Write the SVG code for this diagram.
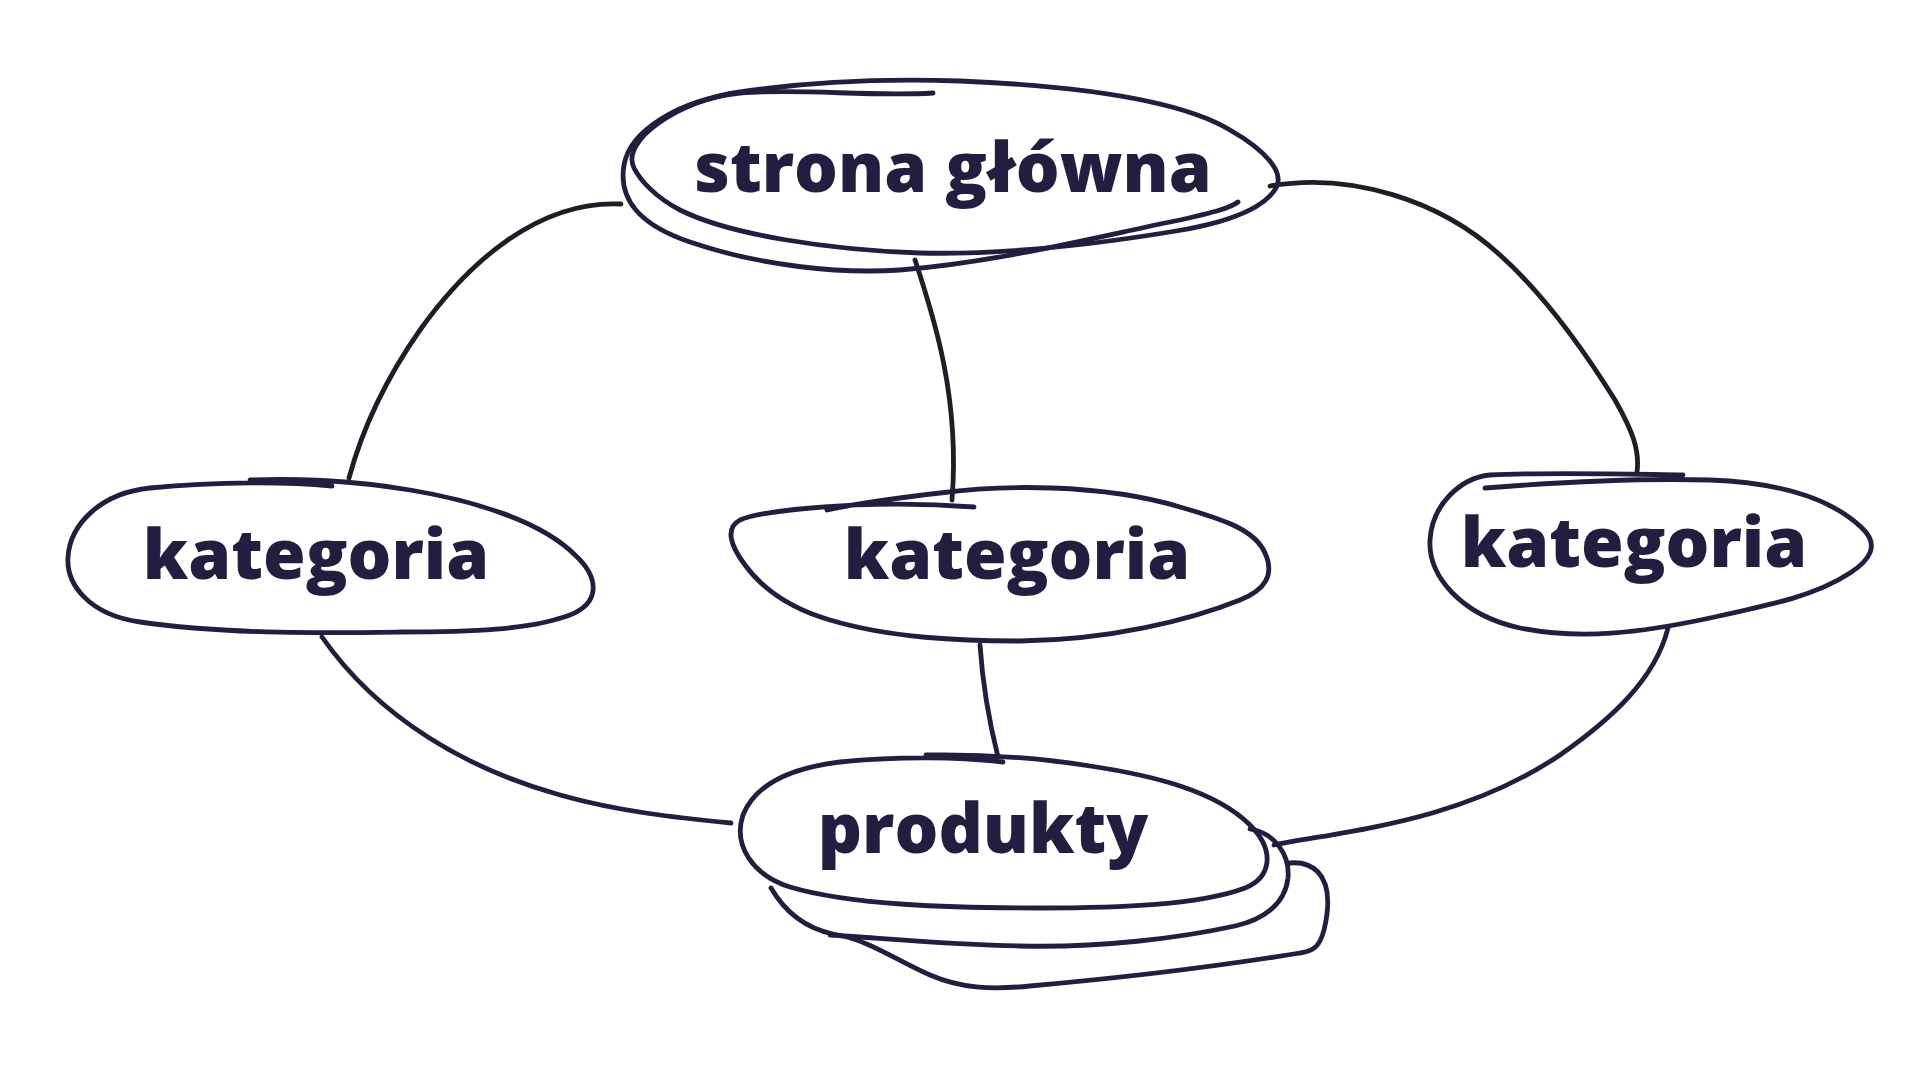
<svg xmlns="http://www.w3.org/2000/svg" width="1920" height="1080" viewBox="0 0 1920 1080">
<style>
.n{fill:none;stroke:#221e40;stroke-width:4.8;stroke-linecap:round;stroke-linejoin:round}
.c{fill:none;stroke-width:4.8;stroke-linecap:round}
.c1{stroke:#1f1e26}
.c2{stroke:#221e40}
.t{font-family:"Open Sans","Noto Sans",sans-serif;font-weight:800;font-size:69px;fill:#221e40;text-anchor:middle}
</style>
<rect width="1920" height="1080" fill="#ffffff"/>
<g id="connectors">
<path class="c c1" d="M 621,204 C 540,200 470,260 420,330 C 385,380 362,430 349,478"/>
<path class="c c1" d="M 915,260 C 935,320 960,400 952,500"/>
<path class="c c1" d="M 1270,186 C 1350,172 1440,200 1500,255 C 1550,300 1590,360 1615,400 C 1632,430 1640,450 1637,472"/>
<path class="c c2" d="M 322,637 C 380,720 470,770 560,795 C 620,812 680,818 731,823"/>
<path class="c c2" d="M 980,645 C 983,690 990,725 998,757"/>
<path class="c c2" d="M 1668,628 C 1655,680 1610,720 1560,755 C 1460,822 1350,830 1274,845"/>
</g>
<g id="node-strona">
<path class="n" d="M 634,168 C 620,140 680,100 740,92 C 820,80 900,79 960,81 C 1080,86 1180,100 1230,130 C 1265,150 1285,172 1276,188 C 1262,212 1215,225 1170,232 C 1090,245 1000,255 920,253 C 830,250 730,235 680,210 C 655,197 640,180 634,168 Z"/>
<path class="n" d="M 933,93 C 870,97 800,88 740,93 C 680,100 630,130 624,165 C 618,200 640,225 690,242 C 760,266 840,274 900,270 C 1000,262 1100,236 1180,220 C 1215,212 1230,208 1238,202"/>
<text class="t" x="953" y="192">strona główna</text>
</g>
<g id="node-kategoria-1">
<path class="n" d="M 332,486 C 290,482 220,481 150,488 C 100,493 70,525 68,557 C 66,585 90,615 140,622 C 230,635 340,633 400,632 C 470,632 530,630 570,615 C 600,603 600,578 575,555 C 540,520 470,500 410,490 C 350,480 290,478 250,480"/>
<text class="t" x="316" y="579">kategoria</text>
</g>
<g id="node-kategoria-2">
<path class="n" d="M 974,507 C 920,503 860,503 800,509 C 770,512 750,515 740,520 C 725,528 730,545 745,565 C 765,592 795,610 830,620 C 890,638 960,641 1020,641 C 1110,640 1190,620 1240,600 C 1265,590 1275,575 1265,553 C 1255,530 1225,520 1180,507 C 1100,483 1000,485 940,493 C 880,500 850,505 827,510"/>
<text class="t" x="1017" y="579">kategoria</text>
</g>
<g id="node-kategoria-3">
<path class="n" d="M 1485,488 C 1560,482 1640,478 1710,480 C 1790,483 1835,502 1862,528 C 1880,545 1870,560 1850,573 C 1815,596 1770,605 1710,618 C 1640,633 1580,640 1520,628 C 1460,615 1428,575 1430,540 C 1432,505 1460,478 1490,475 C 1550,472 1620,474 1683,475"/>
<text class="t" x="1634" y="567">kategoria</text>
</g>
<g id="node-produkty">
<path class="n" d="M 1003,762 C 960,757 900,756 840,762 C 790,768 755,785 743,815 C 733,845 752,875 790,887 C 850,905 950,908 1040,908 C 1120,908 1200,905 1245,888 C 1272,877 1275,850 1250,825 C 1215,790 1150,775 1090,766 C 1040,758 990,754 926,755"/>
<path class="n" d="M 1250,829 C 1275,833 1290,855 1288,878 C 1285,905 1262,920 1235,926 C 1180,938 1100,948 1020,946 C 950,945 880,938 830,935"/>
<path class="n" d="M 771,888 C 785,912 805,928 833,934 C 870,940 895,960 930,975 C 960,988 990,990 1030,986 C 1120,978 1220,966 1300,953 C 1315,951 1320,945 1324,930 C 1330,905 1330,885 1318,872 C 1310,864 1300,862 1290,863"/>
<text class="t" x="983" y="853">produkty</text>
</g>
</svg>
